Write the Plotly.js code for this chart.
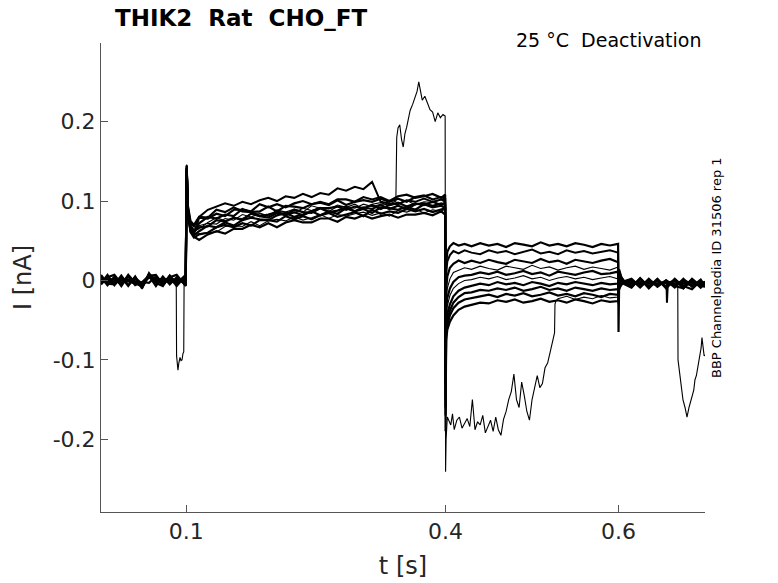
<!DOCTYPE html>
<html>
<head>
<meta charset="utf-8">
<script src="https://cdn.plot.ly/plotly-3.0.1.min.js"></script>
<style>html,body{margin:0;padding:0;background:#fff;}#chart{width:778px;height:583px;}</style>
</head>
<body>
<div id="chart"></div>
<script>
// ---- time grid segments [s] ----
const tBase  = [0.0015,0.009,0.017,0.025,0.033,0.041,0.049,0.057,0.065,0.073,0.081,0.089,0.0995];
const tOn    = [0.1,0.1006,0.102,0.105,0.109];
const tRamp  = [0.115,0.125,0.135,0.145,0.155,0.165,0.175,0.185,0.195,0.205,0.215,0.225,0.235,0.245,0.255,0.265,0.275,0.285,0.295,0.305,0.315,0.325,0.335,0.345,0.355,0.365,0.375,0.385,0.395,0.3995];
const tOff   = [0.4,0.4006,0.402,0.405,0.409,0.415,0.422];
const tDeact = [0.43,0.44,0.45,0.46,0.47,0.48,0.49,0.50,0.51,0.52,0.53,0.54,0.55,0.56,0.57,0.58,0.59,0.5995];
const tBack  = [0.6,0.6006,0.603,0.607];
const tTail  = [0.615,0.625,0.635,0.645,0.655,0.665,0.675,0.685,0.695,0.7];

// ---- sweeps, current [nA] on the grid above ----
const s1 = [0.006,-0.005,0.003,-0.006,0.007,-0.003,-0.008,0.008,0.001,-0.005,0.006,-0.004,0.004,
  0.120,0.145,0.088,0.066,0.060,
  0.079,0.078,0.084,0.081,0.089,0.089,0.087,0.096,0.092,0.096,0.092,0.097,0.100,0.096,0.099,0.096,0.102,0.102,0.099,0.105,0.102,0.105,0.100,0.106,0.108,0.104,0.106,0.109,0.104,0.108,
  -0.090,0.020,0.036,0.043,0.047,0.044,0.046,
  0.043,0.047,0.044,0.046,0.042,0.047,0.045,0.043,0.048,0.044,0.046,0.043,0.047,0.045,0.042,0.046,0.044,0.046,
  -0.065,-0.012,-0.005,-0.002,
  -0.008,0.002,-0.010,0.001,-0.009,0.002,-0.008,0.001,-0.009,-0.003];
const s2 = [-0.002,0.001,-0.003,0.002,-0.001,-0.004,-0.002,0.006,-0.001,0.002,-0.003,0.001,-0.002,
  0.115,0.142,0.092,0.072,0.068,
  0.080,0.089,0.093,0.097,0.094,0.099,0.096,0.101,0.104,0.100,0.106,0.104,0.109,0.105,0.110,0.108,0.116,0.113,0.118,0.115,0.124,0.099,0.097,0.096,0.101,0.099,0.103,0.099,0.102,0.101,
  -0.100,0.008,0.024,0.032,0.037,0.034,0.038,
  0.035,0.033,0.038,0.035,0.037,0.033,0.036,0.039,0.034,0.036,0.033,0.038,0.035,0.037,0.034,0.036,0.038,0.035,
  -0.030,-0.008,0.000,-0.004,
  -0.002,-0.005,-0.001,-0.004,-0.003,-0.006,-0.001,-0.003,-0.004,-0.002];
const s3 = [-0.004,0.007,-0.006,0.004,-0.007,0.005,-0.009,0.006,0.007,-0.005,0.004,-0.007,0.006,
  0.118,0.140,0.085,0.063,0.057,
  0.062,0.069,0.067,0.073,0.069,0.076,0.079,0.077,0.076,0.082,0.085,0.080,0.083,0.087,0.082,0.087,0.084,0.091,0.087,0.090,0.085,0.092,0.091,0.089,0.093,0.089,0.096,0.092,0.094,0.091,
  -0.110,-0.012,0.005,0.016,0.021,0.025,0.022,
  0.025,0.022,0.026,0.023,0.021,0.026,0.024,0.022,0.027,0.023,0.025,0.021,0.026,0.024,0.022,0.025,0.027,0.023,
  -0.020,-0.010,-0.006,-0.001,
  0.002,-0.008,0.001,-0.007,0.000,-0.009,0.002,-0.008,0.001,-0.007];
const s4 = [-0.001,-0.002,0.002,-0.003,0.001,0.000,-0.004,0.003,-0.002,0.001,-0.001,null,-0.001,
  0.112,0.146,0.090,0.068,0.062,
  0.065,0.073,0.079,0.075,0.079,0.078,0.084,0.085,0.081,0.089,0.086,0.090,0.086,0.094,0.091,0.090,0.095,0.092,0.096,0.090,0.096,0.098,0.094,0.097,0.101,0.095,0.099,0.098,0.102,0.097,
  -0.120,-0.025,-0.010,0.002,0.010,0.013,0.016,
  0.014,0.018,0.015,0.013,0.018,0.016,0.014,0.019,0.015,0.017,0.013,0.016,0.018,0.014,0.017,0.015,0.013,0.017,
  -0.012,-0.004,0.002,-0.003,
  -0.001,-0.004,-0.002,-0.006,-0.002,-0.004,-0.001,-0.005,-0.003,-0.002];
const s5 = [0.007,-0.004,-0.005,0.006,-0.006,0.004,-0.010,0.009,-0.003,-0.007,0.006,-0.004,0.007,
  0.122,0.141,0.094,0.075,0.070,
  0.080,0.079,0.089,0.086,0.092,0.087,0.086,0.081,0.079,0.085,0.082,0.086,0.082,0.087,0.091,0.086,0.088,0.092,0.087,0.092,0.090,0.095,0.090,0.094,0.090,0.096,0.097,0.094,0.097,0.095,
  -0.130,-0.036,-0.022,-0.010,-0.002,0.004,0.006,
  0.007,0.010,0.008,0.011,0.007,0.009,0.012,0.008,0.010,0.006,0.011,0.009,0.007,0.010,0.012,0.008,0.009,0.011,
  -0.008,0.004,-0.002,-0.005,
  -0.009,0.003,-0.008,0.002,-0.010,0.001,-0.007,-0.011,0.000,-0.008];
const s6 = [-0.003,0.002,0.000,-0.001,0.002,-0.003,-0.003,0.004,-0.002,0.003,0.000,-0.002,0.000,
  0.110,0.143,0.086,0.064,0.058,
  0.059,0.060,0.061,0.068,0.069,0.068,0.074,0.069,0.075,0.077,0.075,0.080,0.076,0.079,0.083,0.078,0.083,0.081,0.084,0.086,0.082,0.085,0.081,0.088,0.086,0.090,0.085,0.089,0.087,0.090,
  -0.140,-0.045,-0.032,-0.019,-0.010,-0.004,0.000,
  0.001,0.004,0.002,0.005,0.001,0.003,0.006,0.002,0.004,0.000,0.003,0.005,0.002,0.004,0.001,0.003,0.005,0.002,
  -0.004,0.006,0.001,-0.002,
  -0.004,-0.002,-0.005,-0.003,-0.001,-0.004,null,null,null,null];
const s7 = [-0.005,0.004,0.007,-0.004,0.005,-0.006,-0.002,-0.003,0.005,-0.006,0.004,0.007,-0.007,
  0.119,0.139,0.089,0.067,0.061,
  0.072,0.080,0.078,0.083,0.081,0.090,0.086,0.087,0.093,0.087,0.094,0.093,0.091,0.096,0.098,0.095,0.101,0.095,0.099,0.101,0.099,0.103,0.099,0.103,0.099,0.105,0.107,0.102,0.105,0.103,
  -0.150,-0.055,-0.042,-0.030,-0.020,-0.013,-0.009,
  -0.007,-0.004,-0.006,-0.002,-0.005,-0.003,-0.006,-0.002,-0.004,-0.007,-0.003,-0.005,-0.002,-0.004,-0.006,-0.003,-0.005,-0.004,
  0.000,0.008,0.003,-0.001,
  0.001,-0.009,0.002,-0.008,0.000,-0.007,-0.010,0.001,-0.008,-0.002];
const s8 = [0.002,-0.002,-0.001,0.003,0.000,-0.002,-0.004,0.005,0.002,0.000,0.003,-0.002,0.001,
  0.116,0.144,0.087,0.062,0.055,
  0.051,0.058,0.062,0.059,0.065,0.065,0.070,0.067,0.072,0.067,0.073,0.076,0.073,0.073,0.078,0.078,0.074,0.080,0.078,0.082,0.078,0.081,0.083,0.079,0.083,0.083,0.085,0.082,0.087,0.083,
  -0.160,-0.062,-0.050,-0.038,-0.028,-0.021,-0.016,
  -0.015,-0.012,-0.013,-0.010,-0.012,-0.009,-0.013,-0.011,-0.008,-0.012,-0.010,-0.013,-0.009,-0.011,-0.013,-0.010,-0.012,-0.011,
  0.004,0.010,0.002,-0.004,
  -0.005,-0.002,-0.003,-0.006,-0.002,-0.004,-0.001,-0.003,-0.005,-0.002];
const s9 = [0.004,-0.006,0.005,-0.007,0.006,-0.004,-0.005,0.006,-0.007,0.005,-0.005,0.004,-0.006,
  0.121,0.138,0.091,0.069,0.063,
  0.067,0.068,0.076,0.074,0.079,0.076,0.084,0.081,0.083,0.086,0.083,0.089,0.086,0.085,0.091,0.091,0.093,0.089,0.093,0.091,0.095,0.090,0.095,0.098,0.093,0.097,0.095,0.099,0.095,0.098,
  -0.170,-0.068,-0.056,-0.044,-0.035,-0.028,-0.024,
  -0.022,-0.020,-0.018,-0.021,-0.017,-0.019,-0.016,-0.020,-0.018,-0.015,-0.019,-0.017,-0.020,-0.016,-0.018,-0.021,-0.017,-0.018,
  0.006,0.012,0.004,-0.002,
  -0.008,0.002,-0.009,0.001,-0.008,0.001,-0.010,0.002,-0.007,-0.008];
const s10 = [0.001,0.000,-0.002,0.001,-0.001,0.003,-0.004,0.004,0.001,-0.002,0.001,-0.001,0.002,
  0.113,0.142,0.084,0.061,0.054,
  0.058,0.060,0.067,0.070,0.067,0.072,0.069,0.076,0.076,0.074,0.081,0.077,0.081,0.077,0.082,0.085,0.080,0.083,0.086,0.081,0.089,0.084,0.087,0.085,0.090,0.087,0.090,0.086,0.090,0.091,
  -0.190,-0.075,-0.062,-0.052,-0.044,-0.037,-0.033,
  -0.031,-0.028,-0.029,-0.025,-0.027,-0.024,-0.028,-0.026,-0.023,-0.027,-0.025,-0.028,-0.024,-0.026,-0.029,-0.025,-0.027,-0.026,
  0.010,0.014,0.005,-0.003,
  -0.001,-0.004,-0.002,-0.005,-0.003,-0.001,-0.004,-0.006,-0.002,-0.003];
const s11 = [-0.001,0.002,0.002,-0.001,0.001,-0.002,-0.005,0.003,-0.001,0.000,-0.002,0.002,0.000,
  0.117,0.140,0.088,0.065,0.059,
  0.069,0.072,0.071,0.078,0.076,0.083,0.080,0.084,0.081,0.087,0.086,0.085,0.091,0.088,0.092,0.087,0.093,0.093,0.091,0.096,0.093,0.096,0.096,null,null,null,null,null,null,null,
  null,null,null,null,null,null,null,
  null,null,null,null,null,null,null,null,null,null,-0.023,-0.020,-0.024,-0.021,-0.023,-0.019,-0.022,-0.021,
  0.008,0.011,0.003,-0.002,
  -0.004,-0.003,-0.001,-0.005,-0.002,-0.004,-0.003,-0.002,-0.005,-0.001];

// ---- artefact stretches (own time bases) ----
const tDipA = [0.0885,0.0889,0.0897,0.0905,0.0915,0.0929,0.094,0.0952,0.0963,0.0972,0.0976];
const iDipA = [0.001,-0.095,-0.108,-0.113,-0.104,-0.097,-0.101,-0.100,-0.092,-0.090,-0.001];
const tJump = [0.3425,0.3435,0.345,0.347,0.349,0.351,0.353,0.355,0.357,0.359,0.362,0.365,0.367,0.369,0.371,0.373,0.376,0.379,0.382,0.385,0.388,0.391,0.394,0.397,0.3995,
  0.4,0.4006,0.402,0.404,0.406,0.408,0.41,0.413,0.416,0.419,0.422,0.425,0.428,0.431,0.434,0.437,0.44,0.443,0.446,0.449,0.452,0.455,0.458,0.461,0.464,0.467,0.47,0.473,0.476,0.479,0.482,0.485,0.488,0.491,0.494,0.497,0.5,0.503,0.506,0.509,0.512,0.515,0.518,0.521,0.524,0.526,0.5265,0.5275];
const iJump = [0.100,0.180,0.192,0.196,0.178,0.168,0.185,0.193,0.205,0.214,0.222,0.231,0.238,0.250,0.236,0.227,0.232,0.222,0.215,0.212,0.200,0.211,0.205,0.209,0.207,
  -0.241,-0.200,-0.172,-0.178,-0.182,-0.168,-0.188,-0.176,-0.172,-0.186,-0.180,-0.174,-0.184,-0.150,-0.188,-0.178,-0.182,-0.170,-0.192,-0.184,-0.176,-0.190,-0.172,-0.188,-0.195,-0.175,-0.165,-0.150,-0.140,-0.118,-0.150,-0.160,-0.128,-0.145,-0.165,-0.176,-0.150,-0.135,-0.120,-0.135,-0.130,-0.110,-0.104,-0.090,-0.075,-0.066,-0.030,-0.026];
const tSpk  = [0.6555,0.6560,0.6565,0.6570];
const iSpk  = [-0.003,-0.028,-0.012,-0.004];
const tDipB = [0.6685,0.6688,0.6711,0.6730,0.6745,0.6769,0.6792,0.6815,0.6835,0.6850,0.6870,0.6884,0.6900,0.6919,0.6942,0.6955,0.6965,0.6978,0.6990,0.7];
const iDipB = [-0.004,-0.100,-0.120,-0.132,-0.150,-0.160,-0.172,-0.160,-0.152,-0.145,-0.138,-0.125,-0.120,-0.108,-0.095,-0.085,-0.072,-0.082,-0.095,-0.094];

// ---- tick labels ----
const xTicks = [0.1,0.4,0.6];
const xTickText = ['0.1','0.4','0.6'];
const yTicks = [-0.2,-0.1,0,0.1,0.2];
const yTickText = ['-0.2','-0.1','0','0.1','0.2'];

const tAll = [].concat(tBase,tOn,tRamp,tOff,tDeact,tBack,tTail);

function assemble(y, arts){
  const pts=[];
  for(let i=0;i<tAll.length;i++){
    const ti=tAll[i];
    if(arts.some(a=>ti>=a.t[0]&&ti<=a.t[a.t.length-1])) continue;
    if(y[i]===null||y[i]===undefined) continue;
    pts.push([ti,y[i]]);
  }
  arts.forEach(a=>a.t.forEach((ti,j)=>pts.push([ti,a.i[j]])));
  pts.sort((p,q)=>p[0]-q[0]);
  return {x:pts.map(p=>p[0]), y:pts.map(p=>p[1])};
}

// [values, artefacts, drawn line width]
const sweeps = [
  [s1,[],2.2],
  [s2,[{t:tSpk,i:iSpk}],2.0],
  [s3,[],2.2],
  [s4,[{t:tDipA,i:iDipA}],1.1],
  [s5,[],2.2],
  [s6,[{t:tDipB,i:iDipB}],1.1],
  [s7,[],2.2],[s8,[],2.2],[s9,[],2.2],[s10,[],2.2],
  [s11,[{t:tJump,i:iJump}],1.1]
];

const traces = sweeps.map(([y,a,w])=>{
  const d=assemble(y,a);
  return {x:d.x,y:d.y,type:'scatter',mode:'lines',line:{color:'#000',width:w},hoverinfo:'skip',showlegend:false};
});

const F='DejaVu Sans, sans-serif';
const axisCol='#555';
const layout = {
  width:778,height:583,
  margin:{l:101,r:73,t:43,b:71,pad:0},
  paper_bgcolor:'#fff',plot_bgcolor:'#fff',
  showlegend:false,
  xaxis:{range:[0.0015,0.7],showgrid:false,zeroline:false,showline:true,linecolor:axisCol,linewidth:1,
    ticks:'inside',ticklen:7,tickcolor:axisCol,tickwidth:1,
    tickvals:xTicks,ticktext:xTickText,tickfont:{family:F,size:22,color:'#262626'},
    title:{text:'t [s]',font:{family:F,size:24,color:'#262626'},standoff:13}},
  yaxis:{range:[-0.2916,0.299],showgrid:false,zeroline:false,showline:true,linecolor:axisCol,linewidth:1,
    ticks:'inside',ticklen:7,tickcolor:axisCol,tickwidth:1,
    tickvals:yTicks,ticktext:yTickText,tickfont:{family:F,size:22,color:'#262626'},
    title:{text:'I [nA]',font:{family:F,size:24,color:'#262626'},standoff:14}},
  annotations:[
    {text:'<b>THIK2\u00a0\u00a0Rat\u00a0\u00a0CHO_FT</b>',xref:'paper',yref:'paper',x:(113-101)/604,y:1+(43-18)/469,
     xanchor:'left',yanchor:'middle',showarrow:false,font:{family:F,size:23,color:'#000'}},
    {text:'25 °C\u00a0\u00a0Deactivation',xref:'paper',yref:'paper',x:(703-101)/604,y:1+(43-40)/469,
     xanchor:'right',yanchor:'middle',showarrow:false,font:{family:F,size:19,color:'#000'}},
    {text:'BBP Channelpedia ID 31506 rep 1',xref:'paper',yref:'paper',x:(716-101)/604,y:(512-268)/469,
     xanchor:'center',yanchor:'middle',textangle:-90,showarrow:false,font:{family:F,size:13,color:'#000'}}
  ]
};

Plotly.newPlot('chart',traces,layout,{staticPlot:true,displayModeBar:false});
</script>
</body>
</html>
